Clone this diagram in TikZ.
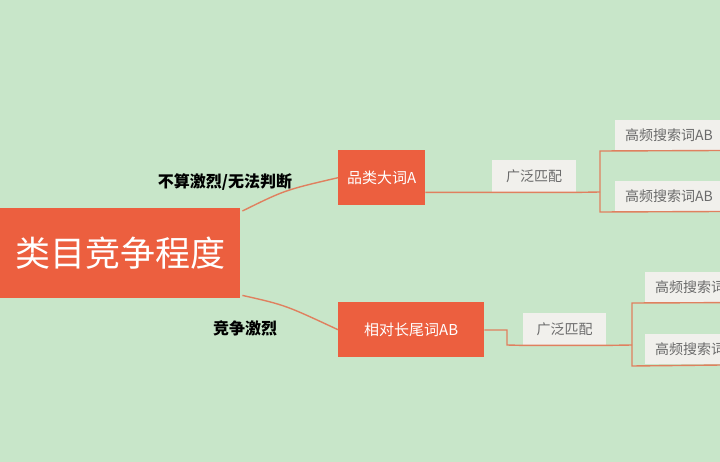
\documentclass[tikz,border=0pt]{standalone}
\usepackage{fontspec}
\newfontfamily\cjk{Noto Sans CJK SC}
\definecolor{bg}{HTML}{C8E6C9}
\definecolor{rd}{HTML}{EC5F3F}
\definecolor{ln}{HTML}{E0805F}
\definecolor{lf}{HTML}{F1F0EC}
\definecolor{tx}{HTML}{6A6A6A}
\begin{document}
\begin{tikzpicture}[x=1pt,y=-1pt,font=\cjk,
  redbox/.style={fill=rd,text=white,inner sep=0pt,anchor=north west},
  leafbox/.style={fill=lf,text=tx,inner sep=0pt,anchor=north west,font=\cjk\fontsize{14}{16}\selectfont},
  conn/.style={draw=ln,line width=1.4pt}]
\fill[bg] (0,0) rectangle (720,462);
\useasboundingbox (0,0) rectangle (720,462);
\node[redbox,minimum width=240,minimum height=90,font=\cjk\fontsize{35}{40}\selectfont] (c) at (0,208) {类目竞争程度};
\node[redbox,minimum width=87,minimum height=55,font=\cjk\fontsize{15}{18}\selectfont] (a) at (338,150) {品类大词A};
\node[redbox,minimum width=146,minimum height=55,font=\cjk\fontsize{15}{18}\selectfont] (b) at (338,302) {相对长尾词AB};
\node[font=\cjk\bfseries\fontsize{16}{18}\selectfont] (la) at (225,182) {不算激烈/无法判断};
\node[font=\cjk\bfseries\fontsize{16}{18}\selectfont] (lb) at (245,328) {竞争激烈};
\node[leafbox,minimum width=84,minimum height=32] (m1) at (492,160) {广泛匹配};
\node[leafbox,minimum width=83,minimum height=32] (m2) at (523,313) {广泛匹配};
\node[leafbox,minimum width=130,minimum height=30,text width=130,align=left] (t1) at (615,120) {\hspace*{10pt}高频搜索词AB};
\node[leafbox,minimum width=130,minimum height=30,text width=130,align=left] (t2) at (615,181) {\hspace*{10pt}高频搜索词AB};
\node[leafbox,minimum width=130,minimum height=30,text width=130,align=left] (t3) at (645,272) {\hspace*{10pt}高频搜索词AB};
\node[leafbox,minimum width=130,minimum height=30,text width=130,align=left] (t4) at (645,334) {\hspace*{10pt}高频搜索词AB};
\draw[conn] (c.north east) ++(2,3) .. controls (285,190) .. (a.west);
\draw[conn] (c.south east) ++(2,-3) .. controls (285,305) .. (b.west);
\draw[conn] (a.east |- m1.south) -- (m1.south west) -- (m1.south east) -- (600,192);
\draw[conn] (t1.south east) -- (600,151) -- (600,212) -- (t2.south east);
\draw[conn] (b.east |- 0,330) -- (507,330) -- (507,345) -- (m2.south west) -- (m2.south east) -- (632,345);
\draw[conn] (t3.south east) -- (632,303) -- (632,366) -- (t4.south east);
\end{tikzpicture}
\end{document}
